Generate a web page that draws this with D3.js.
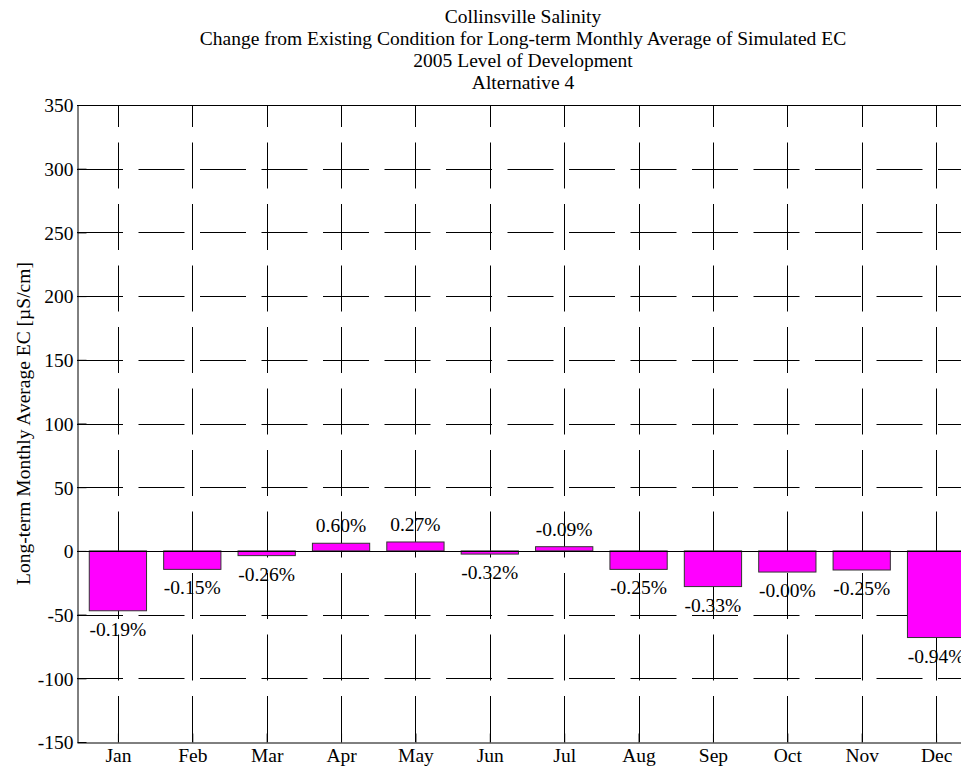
<!DOCTYPE html>
<html>
<head>
<meta charset="utf-8">
<script src="https://cdn.jsdelivr.net/npm/d3@7"></script>
<style>
  body { margin: 0; background: #fff; }
  text { font-family: "Times New Roman", "Liberation Serif", serif; fill: #000; }
</style>
</head>
<body>
<div id="chartGoesHere"></div>
<script>
// monthly change in simulated EC, alternative 4 vs existing condition
var months = ["Jan", "Feb", "Mar", "Apr", "May", "Jun", "Jul", "Aug", "Sep", "Oct", "Nov", "Dec"],
    ecChange = [-47, -14.5, -3.7, 6, 7, -2.5, 3.3, -14.5, -28, -16.6, -15, -68],
    pctLabels = ["-0.19%", "-0.15%", "-0.26%", "0.60%", "0.27%", "-0.32%", "-0.09%",
                 "-0.25%", "-0.33%", "-0.00%", "-0.25%", "-0.94%"],
    yTicks = [-150, -100, -50, 0, 50, 100, 150, 200, 250, 300, 350],
    titleLines = ["Collinsville Salinity",
                  "Change from Existing Condition for Long-term Monthly Average of Simulated EC",
                  "2005 Level of Development",
                  "Alternative 4"],
    yLabel = "Long-term Monthly Average EC [\u00b5S/cm]";

// note: "top" is taken by window.top, so use p* names
var width = 961, height = 768,
    pLeft = 77, pRight = 977, pTop = 105, pBottom = 742,
    fontSize = 19.5, barWidth = 0.77;

var svg = d3.select("#chartGoesHere")
  .append("svg")
  .attr("width", width)
  .attr("height", height);

var x = d3.scaleLinear().domain([0.45, 12.55]).range([pLeft, pRight]),
    y = d3.scaleLinear().domain([-150, 350]).range([pBottom, pTop]);

// titles
svg.append("g").selectAll("text")
  .data(titleLines)
  .join("text")
  .attr("x", 523)
  .attr("y", (d, i) => 23 + i * 22)
  .attr("text-anchor", "middle")
  .style("font-size", fontSize + "px")
  .text(d => d);

// dashed grid, horizontal from left, vertical from bottom
svg.append("g").selectAll("line")
  .data(yTicks.filter(d => d > -150 && d < 350 && d !== 0))
  .join("line")
  .attr("x1", pLeft).attr("x2", pRight)
  .attr("y1", d => Math.round(y(d)) + 0.5).attr("y2", d => Math.round(y(d)) + 0.5)
  .attr("stroke", "#000")
  .attr("stroke-dasharray", "46,15.5");

svg.append("g").selectAll("line")
  .data(d3.range(1, 13))
  .join("line")
  .attr("x1", d => Math.round(x(d)) + 0.5).attr("x2", d => Math.round(x(d)) + 0.5)
  .attr("y1", pBottom).attr("y2", pTop)
  .attr("stroke", "#000")
  .attr("stroke-dasharray", "46,15.5");

// bars
svg.append("g").selectAll("rect")
  .data(ecChange)
  .join("rect")
  .attr("x", (d, i) => x(i + 1 - barWidth / 2))
  .attr("width", x(1 + barWidth) - x(1))
  .attr("y", d => y(Math.max(0, d)))
  .attr("height", d => Math.abs(y(d) - y(0)))
  .attr("fill", "#ff00ff")
  .attr("stroke", "#333")
  .attr("stroke-width", 1);

// zero line
svg.append("line")
  .attr("x1", pLeft).attr("x2", pRight)
  .attr("y1", Math.round(y(0)) + 0.5).attr("y2", Math.round(y(0)) + 0.5)
  .attr("stroke", "#000");

// percent labels
svg.append("g").selectAll("text")
  .data(ecChange)
  .join("text")
  .attr("x", (d, i) => x(i + 1))
  .attr("y", d => d >= 0 ? y(d) - 11 : y(d) + 25)
  .attr("text-anchor", "middle")
  .style("font-size", fontSize + "px")
  .text((d, i) => pctLabels[i]);

// axes, ticks inward like matlab
var yAxis = d3.axisLeft(y).tickValues(yTicks).tickSizeInner(-9).tickSizeOuter(0)
  .tickPadding(4).tickFormat(d => String(d));
var xAxis = d3.axisBottom(x).tickValues(d3.range(1, 13)).tickSizeInner(-9).tickSizeOuter(0)
  .tickPadding(6).tickFormat(d => months[d - 1]);

var gy = svg.append("g").attr("transform", "translate(" + (pLeft + 0.5) + ",0)").call(yAxis);
var gx = svg.append("g").attr("transform", "translate(0," + (pBottom + 0.5) + ")").call(xAxis);
[gy, gx].forEach(function(g){
  g.attr("font-family", null).attr("font-size", null);
  g.selectAll("text").style("font-size", fontSize + "px");
  g.selectAll("path, line").attr("stroke", "#000");
});
gy.selectAll("text").attr("dy", "0.35em");

// top border with ticks
svg.append("line")
  .attr("x1", pLeft).attr("x2", pRight)
  .attr("y1", pTop + 0.5).attr("y2", pTop + 0.5)
  .attr("stroke", "#000");
svg.append("g").selectAll("line")
  .data(d3.range(1, 13))
  .join("line")
  .attr("x1", d => Math.round(x(d)) + 0.5).attr("x2", d => Math.round(x(d)) + 0.5)
  .attr("y1", pTop).attr("y2", pTop + 9)
  .attr("stroke", "#000");

// y label
svg.append("text")
  .attr("transform", "translate(30," + ((pTop + pBottom) / 2) + ") rotate(-90)")
  .attr("text-anchor", "middle")
  .style("font-size", fontSize + "px")
  .text(yLabel);
</script>
</body>
</html>
